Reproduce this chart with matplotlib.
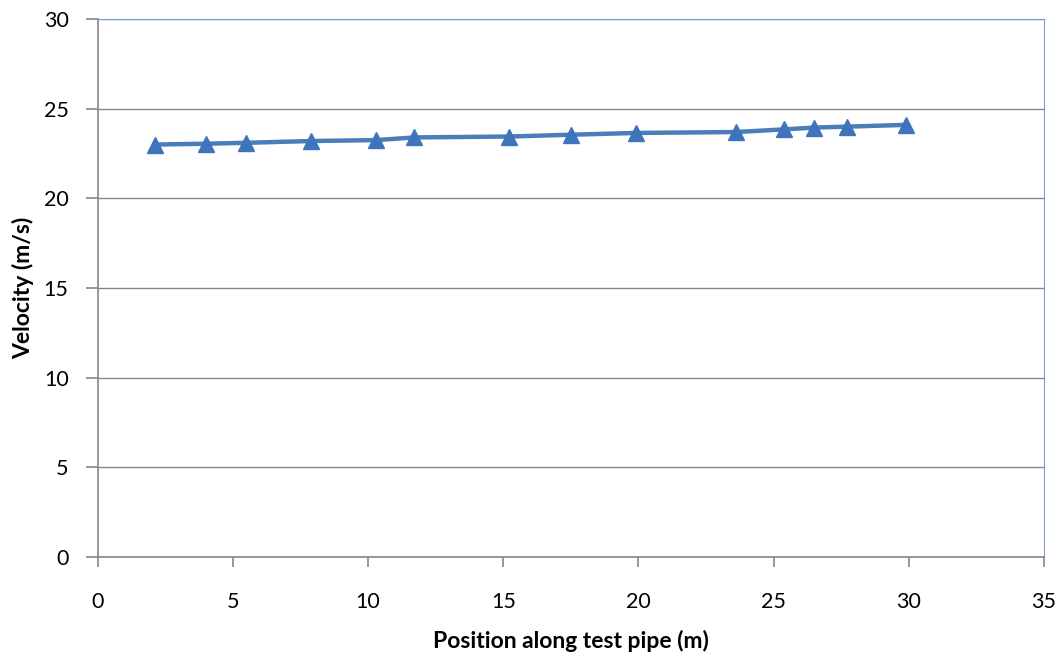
import matplotlib.pyplot as plt

position = [2.1, 4.0, 5.5, 7.9, 10.3, 11.7, 15.2, 17.5, 19.9, 23.6, 25.4, 26.5, 27.7, 29.9]
velocity = [23.0, 23.05, 23.1, 23.2, 23.25, 23.4, 23.45, 23.55, 23.65, 23.7, 23.85, 23.95, 24.0, 24.1]

x_ticks = [0, 5, 10, 15, 20, 25, 30, 35]
y_ticks = [0, 5, 10, 15, 20, 25, 30]

plt.rcParams['font.family'] = ['Lato', 'DejaVu Sans']

fig = plt.figure(figsize=(10.63, 6.58), dpi=100)
ax = fig.add_axes([0.092, 0.1535, 0.89, 0.8175])

ax.plot(position, velocity, color="#4a7ebb", linewidth=3.2, marker="^",
        markersize=12, markerfacecolor="#3f74bd", markeredgecolor="#3f74bd")

ax.set_xlim(0, 35)
ax.set_ylim(0, 30)
ax.set_xticks(x_ticks)
ax.set_yticks(y_ticks)
ax.tick_params(labelsize=15.5, color="#868686", direction="out", width=1.2)
ax.tick_params(axis="y", length=9, pad=12)
ax.tick_params(axis="x", length=7, pad=18)

ax.grid(axis="y", color="#868686", linewidth=1)
ax.set_axisbelow(True)
for side in ["left", "bottom"]:
    ax.spines[side].set_color("#868686")
    ax.spines[side].set_linewidth(1.2)
for side in ["top", "right"]:
    ax.spines[side].set_color("#7f9fc8")
    ax.spines[side].set_linewidth(0.8)

ax.set_xlabel("Position along test pipe (m)", fontsize=16.5, fontweight="bold", labelpad=13)
ax.set_ylabel("Velocity (m/s)", fontsize=16.5, fontweight="bold", labelpad=7)

fig.savefig("out.png", dpi=100)
